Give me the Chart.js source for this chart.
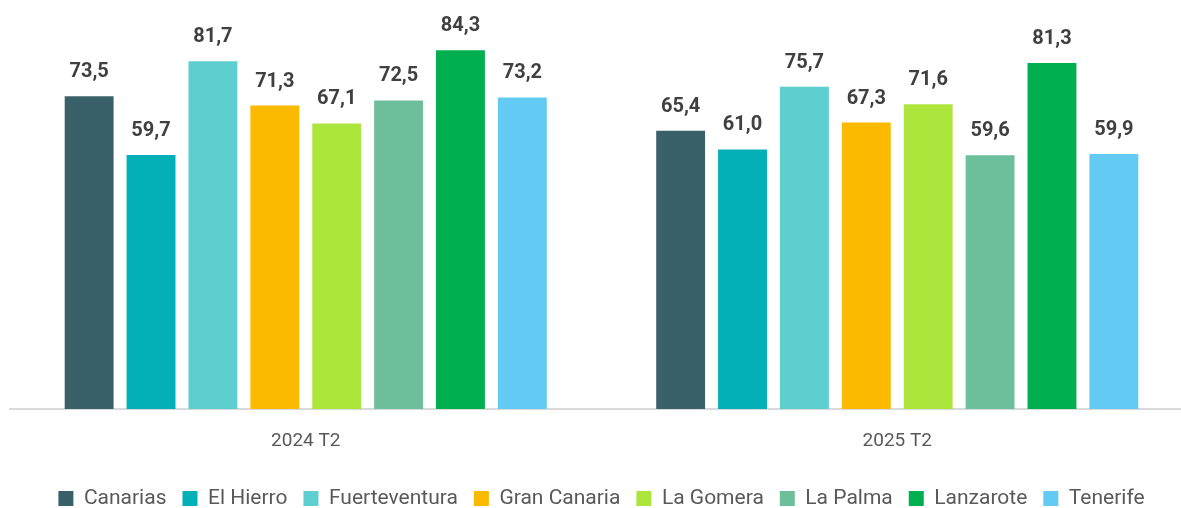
<!DOCTYPE html>
<html><head><meta charset="utf-8">
<script src="https://cdn.jsdelivr.net/npm/chart.js@4"></script>
<style>html,body{margin:0;padding:0;background:#fff;overflow:hidden;width:1181px;height:508px}#w{width:1193px;height:519px}</style>
</head><body><div id="w"><canvas id="c"></canvas></div>
<script>
const categories = ["2024 T2", "2025 T2"];
const seriesNames = ["Canarias","El Hierro","Fuerteventura","Gran Canaria","La Gomera","La Palma","Lanzarote","Tenerife"];
const canarias = [73.5, 65.4];
const elHierro = [59.7, 61.0];
const fuerteventura = [81.7, 75.7];
const granCanaria = [71.3, 67.3];
const laGomera = [67.1, 71.6];
const laPalma = [72.5, 59.6];
const lanzarote = [84.3, 81.3];
const tenerife = [73.2, 59.9];
const colors = ["#3A6069","#03B0B7","#5ECFCF","#FBBA00","#ACE53C","#6CBF9A","#00AF50","#62CAF3"];
const values = [canarias, elHierro, fuerteventura, granCanaria, laGomera, laPalma, lanzarote, tenerife];

const labelPlugin = {
  id: 'vlabels',
  afterDatasetsDraw(chart) {
    const ctx = chart.ctx;
    ctx.save();
    ctx.font = 'bold 20px Roboto';
    ctx.fillStyle = '#404040';
    ctx.textAlign = 'center';
    ctx.textBaseline = 'middle';
    chart.data.datasets.forEach((ds, i) => {
      const meta = chart.getDatasetMeta(i);
      meta.data.forEach((bar, j) => {
        ctx.fillText(ds.data[j].toFixed(1).replace('.', ','), bar.x, bar.y - 24);
      });
    });
    ctx.restore();
  }
};

new Chart(document.getElementById('c'), {
  type: 'bar',
  data: {
    labels: categories,
    datasets: seriesNames.map((n, i) => ({
      label: n, data: values[i], backgroundColor: colors[i],
      categoryPercentage: 0.837, barPercentage: 0.79
    }))
  },
  options: {
    responsive: true, maintainAspectRatio: false, animation: false,
    layout: { padding: { left: 10, right: 0, top: 0, bottom: 0 } },
    plugins: {
      tooltip: { enabled: false },
      legend: {
        position: 'bottom',
        labels: { font: { family: 'Roboto', size: 21 }, color: '#595959', boxWidth: 15, boxHeight: 15, padding: 16 }
      }
    },
    scales: {
      x: {
        grid: { display: false },
        border: { display: true, color: '#D9D9D9', width: 2 },
        ticks: { font: { family: 'Roboto', size: 19 }, color: '#595959', padding: 13 },
        afterFit(s) { s.height = 63; }
      },
      y: { display: false, min: 0, max: 96.1 }
    }
  },
  plugins: [labelPlugin]
});
</script></body></html>
